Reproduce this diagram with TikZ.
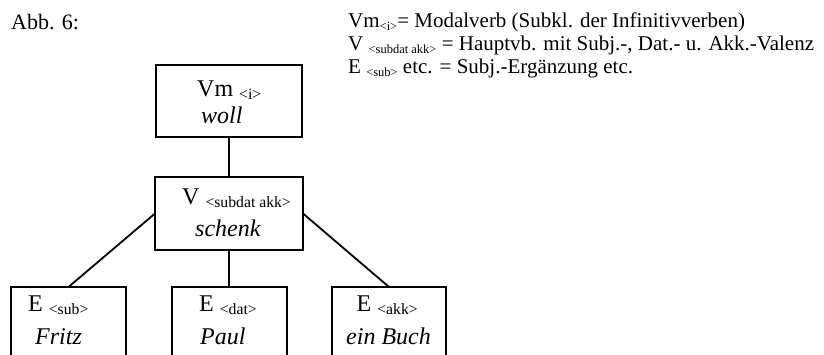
\documentclass[tikz,border=0pt]{standalone}
\usepackage{fontspec}
\setmainfont{Liberation Serif}
\newcommand{\subtxt}[2]{\raisebox{-2.5pt}{\fontsize{#1}{#1}\selectfont #2}}
\begin{document}
\begin{tikzpicture}[x=1pt,y=-1pt,
  box/.style={draw, line width=2pt, inner sep=0pt, outer sep=0pt},
  conn/.style={line width=1.8pt},
  boxtxt/.style={anchor=base west, inner sep=0pt, font=\fontsize{24}{28}\selectfont},
  legtxt/.style={anchor=base west, inner sep=0pt, font=\fontsize{21}{24}\selectfont}]
\useasboundingbox[fill=white] (0,0) rectangle (824,355);
% boxes
\node[box, minimum width=146pt, minimum height=72pt] (top) at (229,101) {};
\node[box, minimum width=148pt, minimum height=73pt] (mid) at (229,213.5) {};
\node[box, minimum width=115pt, minimum height=100pt] (b1) at (68.5,337) {};
\node[box, minimum width=115pt, minimum height=100pt] (b2) at (229,337) {};
\node[box, minimum width=114pt, minimum height=100pt] (b3) at (389,337) {};
% connectors
\draw[conn] (top.south) -- (mid.north);
\draw[conn] (mid.west) -- (b1.north);
\draw[conn] (mid.south) -- (b2.north);
\draw[conn] (mid.east) -- (b3.north);
% box texts
\node[boxtxt] (t1) at (197,96.7) {Vm \subtxt{15.7}{<i>}};
\node[boxtxt] (t2) at (201,123.3) {\itshape woll};
\node[boxtxt] (m1) at (182,205) {V \subtxt{15.7}{<subdat akk>}};
\node[boxtxt] (m2) at (195,237) {\itshape schenk};
\node[boxtxt] (e1) at (28,311.7) {E \subtxt{15.7}{<sub>}};
\node[boxtxt] (f1) at (35,344) {\itshape Fritz};
\node[boxtxt] (e2) at (199,311.7) {E \subtxt{15.7}{<dat>}};
\node[boxtxt] (f2) at (200,344) {\itshape Paul};
\node[boxtxt] (e3) at (356.5,311.7) {E \subtxt{15.7}{<akk>}};
\node[boxtxt] (f3) at (346,344) {\itshape ein Buch};
% caption and legend
\node[anchor=base west, inner sep=0pt, font=\fontsize{22}{26}\selectfont] (abb) at (11,29.5) {Abb. 6:};
\node[legtxt] (l1) at (348,28) {Vm\subtxt{12.5}{<i>}= Modalverb (Subkl. der Infinitivverben)};
\node[legtxt] (l2) at (348,51) {V \subtxt{12.5}{<subdat akk>} = Hauptvb. mit Subj.-, Dat.- u. Akk.-Valenz};
\node[legtxt] (l3) at (348,74) {E \subtxt{12.5}{<sub>} etc. = Subj.-Ergänzung etc.};
\end{tikzpicture}
\end{document}
